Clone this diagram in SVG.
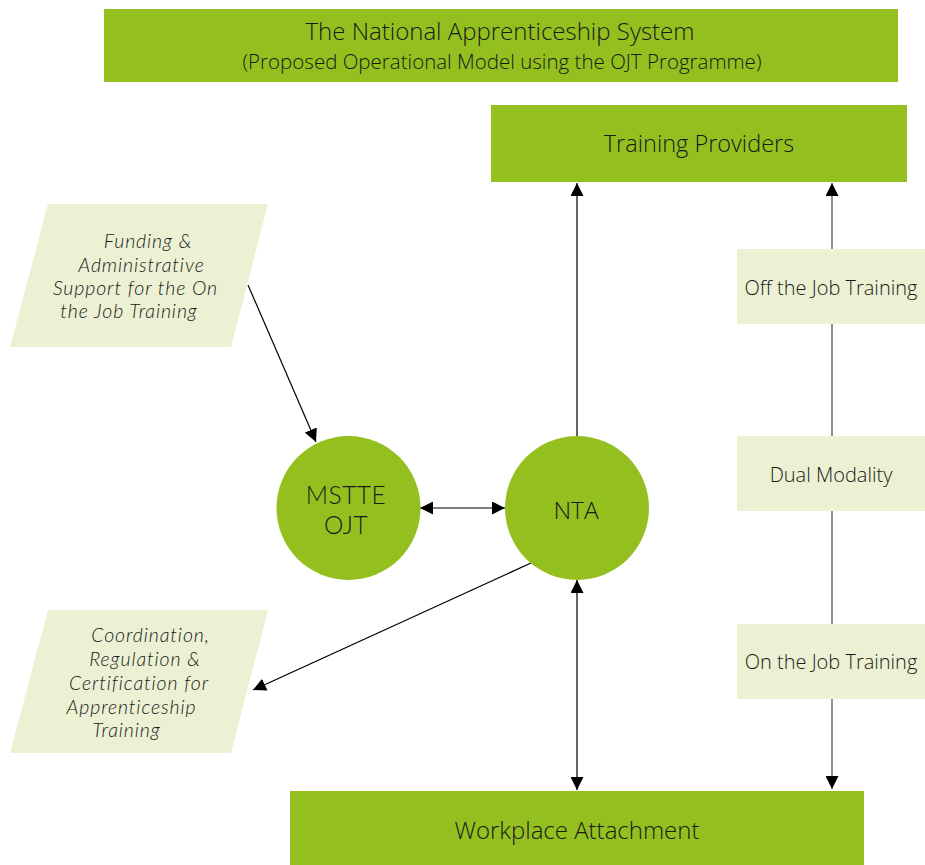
<svg xmlns="http://www.w3.org/2000/svg" width="925" height="865" viewBox="0 0 925 865">
<style>
.g{fill:#93c01f}
.l{fill:#ecf1d3}
.t{font-family:"Open Sans","Liberation Sans",sans-serif;font-weight:300;fill:#1a1a1a;text-anchor:middle}
.i{font-family:Lato,"Open Sans",sans-serif;font-style:italic;font-size:19.5px;letter-spacing:0.9px}
.m{font-family:Lato,"Open Sans",sans-serif;font-size:24.5px;letter-spacing:0.5px}
.s{font-size:20px}
.c{stroke:#000;stroke-width:1.2;fill:none}
.cg{stroke:#6e6e6e;stroke-width:1.5;fill:none}
</style>
<defs>
<marker id="ah" viewBox="0 0 10 10" refX="10" refY="5" markerWidth="13" markerHeight="13" markerUnits="userSpaceOnUse" orient="auto-start-reverse">
<path d="M0,0 L10,5 L0,10 Z" fill="#000"/>
</marker>
</defs>
<rect width="925" height="865" fill="#fff"/>
<g id="connectors">
<line class="c" x1="248" y1="285" x2="316" y2="442" marker-end="url(#ah)"/>
<line class="c" x1="420" y1="508" x2="505" y2="508" marker-start="url(#ah)" marker-end="url(#ah)"/>
<line class="c" x1="577" y1="436" x2="577" y2="183" marker-end="url(#ah)"/>
<line class="c" x1="577" y1="580" x2="577" y2="790" marker-start="url(#ah)" marker-end="url(#ah)"/>
<line class="c" x1="531" y1="563" x2="253" y2="690" marker-end="url(#ah)"/>
<line class="cg" x1="832" y1="183" x2="832" y2="789" marker-start="url(#ah)" marker-end="url(#ah)"/>
</g>
<g id="title">
<rect class="g" x="104" y="9" width="794" height="73"/>
<text class="t" x="500" y="40" font-size="24">The National Apprenticeship System</text>
<text class="t" x="502" y="69" font-size="20.5">(Proposed Operational Model using the OJT Programme)</text>
</g>
<g id="training-providers">
<rect class="g" x="491" y="105" width="416" height="77"/>
<text class="t" x="699" y="152" font-size="23.5">Training Providers</text>
</g>
<g id="workplace-attachment">
<rect class="g" x="290" y="791" width="574" height="74"/>
<text class="t" x="577" y="839" font-size="24">Workplace Attachment</text>
</g>
<g id="funding">
<polygon class="l" points="48,204 268,204 231,347 10,347"/>
<text class="t i" x="148" y="248">Funding &amp;</text>
<text class="t i" x="141.5" y="272">Administrative</text>
<text class="t i" x="135.5" y="295">Support for the On</text>
<text class="t i" x="129" y="318">the Job Training</text>
</g>
<g id="coordination">
<polygon class="l" points="48,610 268,610 231,753 10,753"/>
<text class="t i" x="150.5" y="642">Coordination,</text>
<text class="t i" x="145" y="666">Regulation &amp;</text>
<text class="t i" x="139" y="690">Certification for</text>
<text class="t i" x="131.5" y="714">Apprenticeship</text>
<text class="t i" x="126.5" y="737">Training</text>
</g>
<g id="mstte">
<circle class="g" cx="348.5" cy="508" r="72"/>
<text class="t m" x="346" y="504">MSTTE</text>
<text class="t m" x="346" y="534">OJT</text>
</g>
<g id="nta">
<circle class="g" cx="577" cy="508" r="72"/>
<text class="t" x="576" y="519" font-size="24.5">NTA</text>
</g>
<g id="off-the-job">
<rect class="l" x="737" y="249" width="188" height="75"/>
<text class="t s" x="831" y="295">Off the Job Training</text>
</g>
<g id="dual-modality">
<rect class="l" x="737" y="436" width="188" height="75"/>
<text class="t s" x="831" y="482">Dual Modality</text>
</g>
<g id="on-the-job">
<rect class="l" x="737" y="624" width="188" height="75"/>
<text class="t s" x="831" y="669">On the Job Training</text>
</g>
</svg>
